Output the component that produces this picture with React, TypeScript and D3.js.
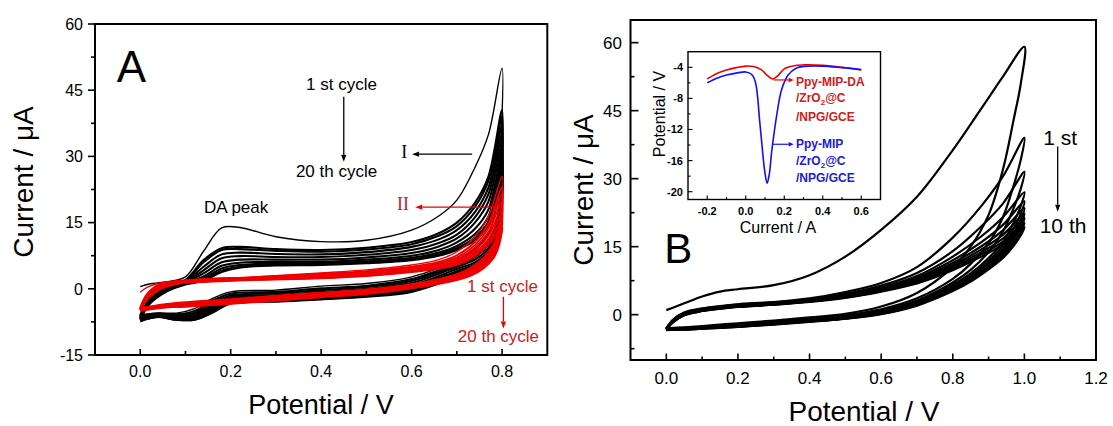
import React from 'react';
import * as d3 from 'd3';

const W = 1113;
const H = 426;
const FONT = 'Liberation Sans, Arial, Helvetica, sans-serif';

// ---------- Panel A: potential grids (V) ----------
const aForwardE = [0, 0.02, 0.06, 0.1, 0.14, 0.18, 0.22, 0.3, 0.4, 0.5, 0.6, 0.66, 0.7, 0.74, 0.77, 0.8];
const aReverseE = [0.8, 0.797, 0.79, 0.77, 0.74, 0.7, 0.6, 0.5, 0.4, 0.3, 0.2, 0.16, 0.12, 0.08, 0.04, 0.01, 0];

// black cycles (1st .. 20th), current in uA
const blackForward = [
  [0.5, 1.1, 1.6, 2.7, 8.5, 13.8, 13.9, 11.8, 10.7, 11.0, 13.3, 16.5, 20.1, 27.5, 35.0, 50.0],
  [-6.0, -2.5, 0.4, 2.0, 6.5, 9.2, 9.5, 9.0, 8.8, 9.3, 10.6, 12.6, 15.0, 19.5, 25.5, 40.5],
  [-6.2, -2.7, 0.3, 1.8, 6.0, 8.8, 9.0, 8.6, 8.4, 8.9, 10.1, 12.0, 14.2, 18.6, 24.5, 39.0],
  [-6.4, -2.9, 0.2, 1.6, 5.0, 7.8, 8.2, 7.9, 7.8, 8.3, 9.5, 11.2, 13.3, 17.4, 23.0, 37.0],
  [-6.5, -3.0, 0.1, 1.5, 4.2, 6.9, 7.4, 7.2, 7.2, 7.7, 8.8, 10.4, 12.3, 16.2, 21.5, 35.0],
  [-6.6, -3.1, 0.0, 1.4, 3.5, 6.0, 6.6, 6.6, 6.6, 7.1, 8.1, 9.6, 11.4, 15.0, 19.8, 33.0],
  [-6.7, -3.2, -0.2, 1.3, 2.8, 5.2, 5.9, 6.1, 6.1, 6.6, 7.5, 8.8, 10.5, 13.6, 18.0, 31.0],
  [-6.8, -3.3, -0.3, 1.2, 2.3, 4.6, 5.4, 5.7, 5.8, 6.2, 7.0, 8.2, 9.7, 12.4, 16.4, 29.5],
  [-6.9, -3.4, -0.4, 1.1, 2.0, 4.1, 5.0, 5.5, 5.6, 6.0, 6.7, 7.8, 9.2, 11.6, 15.3, 27.5],
  [-7.0, -3.5, -0.5, 1.0, 1.8, 3.8, 4.8, 5.3, 5.4, 5.8, 6.5, 7.5, 8.8, 11.0, 14.5, 26.0],
];
const blackReverse = [
  [50.0, 32, 20, 12.5, 9.0, 6.5, 2.7, 1.2, 0.6, -0.3, -0.7, -2.2, -4.5, -5.5, -5.5, -5.8, -6.0],
  [40.5, 25, 16, 10.5, 7.6, 5.8, 2.2, 0.7, 0.1, -0.7, -1.1, -2.7, -5.0, -5.8, -5.6, -5.9, -6.2],
  [39.0, 24, 15, 10.0, 7.2, 5.4, 1.8, 0.4, -0.3, -1.0, -1.5, -3.1, -5.4, -6.0, -5.7, -6.1, -6.4],
  [37.0, 22, 14, 9.2, 6.6, 5.0, 1.3, 0.0, -0.7, -1.4, -1.9, -3.6, -5.8, -6.3, -5.9, -6.3, -6.5],
  [35.0, 21, 13, 8.5, 6.0, 4.5, 0.8, -0.4, -1.1, -1.8, -2.3, -4.0, -6.2, -6.5, -6.0, -6.4, -6.6],
  [33.0, 19.5, 12, 7.8, 5.5, 4.0, 0.4, -0.8, -1.5, -2.1, -2.6, -4.4, -6.5, -6.7, -6.1, -6.6, -6.7],
  [31.0, 18, 11, 7.2, 5.0, 3.6, 0.0, -1.2, -1.8, -2.4, -2.9, -4.8, -6.7, -6.8, -6.2, -6.7, -6.8],
  [29.5, 17, 10.5, 6.7, 4.7, 3.2, -0.3, -1.5, -2.1, -2.6, -3.1, -5.1, -6.9, -6.9, -6.3, -6.8, -6.9],
  [27.5, 16, 10, 6.3, 4.4, 2.9, -0.5, -1.7, -2.3, -2.8, -3.2, -5.3, -7.0, -7.0, -6.4, -6.9, -7.0],
  [26.0, 15, 9.5, 6.0, 4.2, 2.7, -0.7, -1.8, -2.4, -2.9, -3.3, -5.4, -7.0, -7.0, -6.4, -7.0, -7.4],
];

// red cycles
const redForwardE = [0, 0.015, 0.04, 0.08, 0.15, 0.25, 0.4, 0.5, 0.6, 0.66, 0.7, 0.74, 0.77, 0.8];
const redReverseE = [0.8, 0.797, 0.79, 0.78, 0.76, 0.73, 0.7, 0.6, 0.5, 0.4, 0.3, 0.2, 0.1, 0.05, 0.02, 0];
const redForward = [
  [-0.8, 0.3, 1.2, 1.8, 2.3, 2.7, 3.6, 4.3, 5.4, 6.6, 8.4, 11.8, 16.5, 25.4],
  [-4.3, -1.2, 0.9, 1.7, 2.2, 2.6, 3.4, 4.0, 5.0, 6.1, 7.6, 10.6, 14.8, 23.0],
  [-4.4, -1.4, 0.7, 1.6, 2.1, 2.5, 3.2, 3.8, 4.7, 5.8, 7.1, 9.9, 13.8, 21.5],
  [-4.5, -1.6, 0.5, 1.5, 2.0, 2.4, 3.0, 3.6, 4.4, 5.5, 6.7, 9.3, 12.9, 20.0],
  [-4.6, -1.8, 0.3, 1.4, 1.9, 2.3, 2.8, 3.4, 4.2, 5.2, 6.3, 8.7, 12.0, 18.5],
  [-4.7, -2.0, 0.1, 1.3, 1.8, 2.2, 2.6, 3.2, 4.0, 5.0, 6.0, 8.2, 11.2, 17.0],
  [-4.8, -2.2, -0.1, 1.2, 1.7, 2.1, 2.5, 3.0, 3.9, 4.8, 5.7, 7.8, 10.5, 15.5],
  [-4.9, -2.4, -0.3, 1.1, 1.6, 2.0, 2.4, 2.9, 3.8, 4.6, 5.4, 7.4, 10.0, 14.0],
];
const redReverse = [
  [25.4, 17, 12.5, 10.0, 7.2, 4.8, 3.4, 1.1, -0.1, -0.8, -1.5, -2.3, -3.0, -3.5, -4.0, -4.3],
  [23.0, 16, 12.0, 9.5, 6.8, 4.4, 3.1, 0.9, -0.3, -1.0, -1.7, -2.5, -3.2, -3.7, -4.1, -4.4],
  [21.5, 15, 11.4, 9.0, 6.4, 4.1, 2.8, 0.7, -0.5, -1.2, -1.9, -2.7, -3.4, -3.8, -4.2, -4.5],
  [20.0, 14.2, 10.8, 8.5, 6.0, 3.8, 2.6, 0.5, -0.7, -1.4, -2.1, -2.9, -3.6, -3.9, -4.3, -4.6],
  [18.5, 13.5, 10.3, 8.0, 5.6, 3.5, 2.4, 0.4, -0.9, -1.6, -2.3, -3.1, -3.8, -4.0, -4.4, -4.7],
  [17.0, 12.8, 9.8, 7.6, 5.3, 3.3, 2.2, 0.3, -1.0, -1.7, -2.5, -3.2, -3.9, -4.1, -4.5, -4.8],
  [15.5, 12.2, 9.3, 7.2, 5.0, 3.1, 2.1, 0.2, -1.1, -1.8, -2.6, -3.3, -4.0, -4.2, -4.6, -4.9],
  [14.0, 11.5, 8.8, 6.8, 4.7, 2.9, 2.0, 0.1, -1.2, -1.9, -2.7, -3.4, -4.0, -4.3, -4.7, -5.0],
];

// ---------- Panel B ----------
const bForwardE = [0, 0.02, 0.05, 0.1, 0.15, 0.2, 0.3, 0.4, 0.5, 0.6, 0.7, 0.8, 0.88, 0.94, 1.0];
const bReverseE = [1.0, 0.99, 0.97, 0.94, 0.9, 0.85, 0.8, 0.7, 0.6, 0.5, 0.4, 0.3, 0.2, 0.1, 0.05, 0.02, 0];
const bForward = [
  [1.0, 1.6, 2.5, 4.0, 5.1, 5.6, 6.5, 8.7, 12.8, 18.7, 26.0, 36.3, 45.5, 52.5, 59.1],
  [-3.0, -1.0, 0.5, 1.4, 1.9, 2.3, 2.8, 3.6, 5.0, 7.0, 10.5, 17.0, 24.0, 30.5, 39.0],
  [-3.0, -1.1, 0.4, 1.3, 1.8, 2.2, 2.7, 3.4, 4.6, 6.4, 9.2, 14.0, 19.5, 24.5, 31.5],
  [-3.1, -1.2, 0.3, 1.2, 1.7, 2.1, 2.6, 3.3, 4.4, 6.0, 8.5, 12.8, 17.3, 21.5, 27.0],
  [-3.1, -1.3, 0.2, 1.1, 1.6, 2.0, 2.5, 3.2, 4.2, 5.8, 8.1, 12.0, 16.0, 19.8, 25.0],
  [-3.2, -1.4, 0.1, 1.0, 1.5, 1.9, 2.4, 3.1, 4.1, 5.6, 7.8, 11.4, 15.1, 18.6, 23.5],
  [-3.2, -1.5, 0.0, 0.9, 1.4, 1.8, 2.3, 3.0, 4.0, 5.4, 7.5, 10.9, 14.4, 17.6, 22.3],
  [-3.2, -1.5, 0.0, 0.9, 1.4, 1.8, 2.3, 2.9, 3.9, 5.3, 7.3, 10.5, 13.8, 16.8, 21.3],
  [-3.3, -1.6, -0.1, 0.8, 1.3, 1.7, 2.2, 2.9, 3.8, 5.2, 7.1, 10.1, 13.3, 16.1, 20.2],
  [-3.3, -1.6, -0.1, 0.8, 1.3, 1.7, 2.2, 2.8, 3.7, 5.1, 6.9, 9.8, 12.8, 15.5, 19.3],
];
const bReverse = [
  [59.1, 51, 43, 32, 22, 15.0, 10.5, 4.8, 1.8, 0.2, -0.6, -1.3, -1.9, -2.5, -2.8, -2.9, -3.0],
  [39.0, 34.2, 28.5, 21.5, 15.8, 11.2, 7.9, 3.6, 1.2, -0.1, -0.9, -1.5, -2.1, -2.7, -2.9, -3.0, -3.0],
  [31.5, 27.8, 23.5, 18.3, 13.8, 9.9, 7.1, 3.1, 0.9, -0.3, -1.1, -1.7, -2.3, -2.8, -3.0, -3.1, -3.1],
  [27.0, 24.0, 20.3, 16.0, 12.5, 9.1, 6.6, 2.8, 0.7, -0.5, -1.2, -1.8, -2.4, -2.9, -3.1, -3.1, -3.1],
  [25.0, 22.3, 19.0, 15.2, 11.9, 8.7, 6.3, 2.6, 0.5, -0.6, -1.3, -1.9, -2.5, -2.9, -3.1, -3.2, -3.2],
  [23.5, 21.0, 18.0, 14.5, 11.4, 8.3, 6.0, 2.4, 0.4, -0.7, -1.4, -2.0, -2.5, -3.0, -3.2, -3.2, -3.2],
  [22.3, 20.0, 17.2, 13.9, 11.0, 8.0, 5.8, 2.3, 0.3, -0.8, -1.4, -2.0, -2.6, -3.0, -3.2, -3.2, -3.2],
  [21.3, 19.2, 16.5, 13.4, 10.6, 7.7, 5.6, 2.2, 0.2, -0.8, -1.5, -2.1, -2.6, -3.0, -3.2, -3.3, -3.3],
  [20.2, 18.3, 15.8, 12.9, 10.3, 7.5, 5.4, 2.1, 0.2, -0.9, -1.5, -2.1, -2.7, -3.1, -3.3, -3.3, -3.3],
  [19.3, 17.5, 15.2, 12.5, 10.0, 7.3, 5.2, 2.0, 0.1, -0.9, -1.6, -2.2, -2.7, -3.1, -3.3, -3.3, -3.4],
];

// ---------- Inset ----------
const insetRedX = [-0.2, -0.15, -0.1, -0.05, 0.0, 0.04, 0.08, 0.11, 0.14, 0.17, 0.2, 0.25, 0.3, 0.4, 0.5, 0.6];
const insetRedY = [-5.5, -4.8, -4.35, -4.05, -3.85, -3.9, -4.3, -5.0, -5.5, -5.0, -4.2, -3.8, -3.7, -3.75, -4.0, -4.35];
const insetBlueX = [-0.2, -0.15, -0.1, -0.05, 0.0, 0.03, 0.05, 0.073, 0.09, 0.1, 0.111, 0.122, 0.134, 0.147, 0.16, 0.186, 0.22, 0.264, 0.3, 0.4, 0.5, 0.6];
const insetBlueY = [-6.0, -5.4, -5.0, -4.75, -4.6, -4.9, -5.9, -11.1, -15.5, -17.6, -18.9, -17.8, -15.0, -12.5, -10.3, -6.9, -5.0, -4.1, -3.9, -3.85, -4.05, -4.3];

// ---------- ticks ----------
const aXMajor = [0, 0.2, 0.4, 0.6, 0.8];
const aXMinor = [0.1, 0.3, 0.5, 0.7];
const aYMajor = [-15, 0, 15, 30, 45, 60];
const aYMinor = [-7.5, 7.5, 22.5, 37.5, 52.5];
const bXMajor = [0, 0.2, 0.4, 0.6, 0.8, 1.0, 1.2];
const bXMinor = [0.1, 0.3, 0.5, 0.7, 0.9, 1.1];
const bYMajor = [0, 15, 30, 45, 60];
const bYMinor = [-7.5, 7.5, 22.5, 37.5, 52.5];
const iXMajor = [-0.2, 0, 0.2, 0.4, 0.6];
const iXMinor = [-0.1, 0.1, 0.3, 0.5];
const iYMajor = [-20, -16, -12, -8, -4];
const iYMinor = [-18, -14, -10, -6];

const RED = '#ee0000';
const RED_TEXT = '#cc2020';
const BLUE = '#1010ff';
const BLUE_TEXT = '#2020cc';

type Pt = [number, number];
const loop = (fe: number[], fi: number[], re: number[], ri: number[]): Pt[] =>
  fe.map((e, i) => [e, fi[i]] as Pt).concat(re.slice(1).map((e, i) => [e, ri[i + 1]] as Pt));

function Arrow({ x1, y1, x2, y2, color, head = 7, half = 2.6, sw = 1.3 }: any) {
  const a = Math.atan2(y2 - y1, x2 - x1);
  const bx = x2 - head * Math.cos(a);
  const by = y2 - head * Math.sin(a);
  const px = -Math.sin(a) * half;
  const py = Math.cos(a) * half;
  return (
    <g>
      <line x1={x1} y1={y1} x2={bx} y2={by} stroke={color} strokeWidth={sw} />
      <polygon points={`${x2},${y2} ${bx + px},${by + py} ${bx - px},${by - py}`} fill={color} />
    </g>
  );
}

function Axes({ x, y, xMajor, xMinor, yMajor, yMinor, leftOut, xLen, yLen, fs, xLabelY, yLabelX, fmtX, fmtY, sw, bold }: any) {
  const [x0, x1] = x.range();
  const [y0, y1] = y.range();
  const dir = leftOut ? -1 : 1;
  return (
    <g fontFamily={FONT} fontSize={fs} fontWeight={bold ? 'bold' : 'normal'}>
      <rect x={x0} y={y1} width={x1 - x0} height={y0 - y1} fill="none" stroke="#000" strokeWidth={sw} />
      {xMajor.map((v: number) => (
        <g key={'xM' + v}>
          <line x1={x(v)} x2={x(v)} y1={y0} y2={y0 - xLen[0]} stroke="#000" strokeWidth={sw * 0.8} />
          <text x={x(v)} y={xLabelY} textAnchor="middle">{fmtX(v)}</text>
        </g>
      ))}
      {xMinor.map((v: number) => (
        <line key={'xm' + v} x1={x(v)} x2={x(v)} y1={y0} y2={y0 - xLen[1]} stroke="#000" strokeWidth={sw * 0.8} />
      ))}
      {yMajor.map((v: number) => (
        <g key={'yM' + v}>
          <line x1={x0} x2={x0 + dir * yLen[0]} y1={y(v)} y2={y(v)} stroke="#000" strokeWidth={sw * 0.8} />
          <text x={yLabelX} y={y(v)} dy="0.36em" textAnchor="end">{fmtY(v)}</text>
        </g>
      ))}
      {yMinor.map((v: number) => (
        <line key={'ym' + v} x1={x0} x2={x0 + dir * yLen[1]} y1={y(v)} y2={y(v)} stroke="#000" strokeWidth={sw * 0.8} />
      ))}
    </g>
  );
}

export default function App() {
  // scales
  const xA = d3.scaleLinear().domain([-0.1, 0.9]).range([95, 547.3]);
  const yA = d3.scaleLinear().domain([-15, 60]).range([355, 24]);
  const xB = d3.scaleLinear().domain([-0.1, 1.2]).range([630.5, 1096]);
  const yB = d3.scaleLinear().domain([-10, 65]).range([360, 20]);
  const xI = d3.scaleLinear().domain([-0.3, 0.7]).range([688, 880.5]);
  const yI = d3.scaleLinear().domain([-21, -2]).range([199.5, 51.7]);

  const curve = d3.curveCatmullRom.alpha(0.5);
  const lineA = d3.line<Pt>().x(d => xA(d[0])).y(d => yA(d[1])).curve(curve);
  const lineB = d3.line<Pt>().x(d => xB(d[0])).y(d => yB(d[1])).curve(curve);
  const lineI = d3.line<Pt>().x(d => xI(d[0])).y(d => yI(d[1])).curve(curve);

  const fx = (v: number) => v.toFixed(1);
  const fy = (v: number) => String(v);

  return (
    <svg width={W} height={H} style={{ position: 'absolute', left: 0, top: 0, background: '#fff' }}>
      <rect width={W} height={H} fill="#fff" />

      {/* ---------------- Panel A ---------------- */}
      <g fill="none" strokeLinejoin="round">
        {blackForward.map((row, i) => (
          <path key={'ab' + i} d={lineA(loop(aForwardE, row, aReverseE, blackReverse[i])) || ''} stroke="#000" strokeWidth={i === 0 ? 1.4 : 2.1} />
        ))}
        {redForward.map((row, i) => (
          <path key={'ar' + i} d={lineA(loop(redForwardE, row, redReverseE, redReverse[i])) || ''} stroke={RED} strokeWidth={i === 0 ? 1.4 : 1.9} />
        ))}
      </g>
      <Axes x={xA} y={yA} xMajor={aXMajor} xMinor={aXMinor} yMajor={aYMajor} yMinor={aYMinor}
        leftOut={true} xLen={[6, 4]} yLen={[7, 4]} fs={16} xLabelY={377} yLabelX={83}
        fmtX={fx} fmtY={fy} sw={2} />
      <g fontFamily={FONT}>
        <text x={xA(-0.052)} y={yA(46.9)} fontSize={44}>A</text>
        <text x={xA(0.445)} y={yA(45)} fontSize={17} textAnchor="middle">1 st cycle</text>
        <Arrow x1={xA(0.45)} y1={yA(43.5)} x2={xA(0.45)} y2={yA(28.8)} color="#000" />
        <text x={xA(0.434)} y={yA(25.3)} fontSize={17} textAnchor="middle">20 th cycle</text>
        <text x={xA(0.212)} y={yA(17.2)} fontSize={17} textAnchor="middle">DA peak</text>
        <text x={xA(0.584)} y={yA(29.6)} fontSize={18} textAnchor="middle" fontFamily="Liberation Serif, Times New Roman, serif">I</text>
        <Arrow x1={xA(0.734)} y1={yA(30.5)} x2={xA(0.601)} y2={yA(30.5)} color="#000" />
        <text x={xA(0.581)} y={yA(17.9)} fontSize={18} textAnchor="middle" fill={RED_TEXT} fontFamily="Liberation Serif, Times New Roman, serif">II</text>
        <Arrow x1={xA(0.8)} y1={yA(18.5)} x2={xA(0.608)} y2={yA(18.5)} color={RED} />
        <text x={xA(0.801)} y={yA(-0.7)} fontSize={17} textAnchor="middle" fill={RED_TEXT}>1 st cycle</text>
        <Arrow x1={xA(0.803)} y1={yA(-1.8)} x2={xA(0.803)} y2={yA(-9.0)} color={RED} />
        <text x={xA(0.792)} y={yA(-12.0)} fontSize={17} textAnchor="middle" fill={RED_TEXT}>20 th cycle</text>
        <text x={321} y={414} fontSize={27} textAnchor="middle">Potential / V</text>
        <text transform="translate(33,182) rotate(-90)" fontSize={28} textAnchor="middle">Current / μA</text>
      </g>

      {/* ---------------- Panel B ---------------- */}
      <g fill="none" strokeLinejoin="round">
        {bForward.map((row, i) => (
          <path key={'b' + i} d={lineB(loop(bForwardE, row, bReverseE, bReverse[i])) || ''} stroke="#000" strokeWidth={2.2} />
        ))}
      </g>
      <Axes x={xB} y={yB} xMajor={bXMajor} xMinor={bXMinor} yMajor={bYMajor} yMinor={bYMinor}
        leftOut={false} xLen={[6.5, 3.5]} yLen={[8, 4]} fs={17} xLabelY={384} yLabelX={622}
        fmtX={fx} fmtY={fy} sw={2} />
      <g fontFamily={FONT}>
        <text x={xB(-0.006)} y={yB(11.4)} fontSize={42}>B</text>
        <text x={xB(1.10)} y={yB(37.4)} fontSize={21} textAnchor="middle">1 st</text>
        <Arrow x1={xB(1.093)} y1={yB(37.1)} x2={xB(1.093)} y2={yB(22.7)} color="#000" />
        <text x={xB(1.108)} y={yB(18.0)} fontSize={21} textAnchor="middle">10 th</text>
        <text x={864} y={421} fontSize={28} textAnchor="middle">Potential / V</text>
        <text transform="translate(593,190) rotate(-90)" fontSize={28} textAnchor="middle">Current / μA</text>
      </g>

      {/* ---------------- Inset ---------------- */}
      <rect x={688} y={51.7} width={192.5} height={147.8} fill="#fff" />
      <g fill="none">
        <path d={lineI(insetRedX.map((v, i) => [v, insetRedY[i]] as Pt)) || ''} stroke={RED} strokeWidth={1.6} />
        <path d={lineI(insetBlueX.map((v, i) => [v, insetBlueY[i]] as Pt)) || ''} stroke={BLUE} strokeWidth={1.6} />
      </g>
      <Axes x={xI} y={yI} xMajor={iXMajor} xMinor={iXMinor} yMajor={iYMajor} yMinor={iYMinor}
        leftOut={false} xLen={[4, 2.5]} yLen={[4.5, 2.5]} fs={11} xLabelY={215} yLabelX={683}
        fmtX={fx} fmtY={fy} sw={1.4} bold={true} />
      <g fontFamily={FONT}>
        <text transform="translate(665,114) rotate(-90)" fontSize={16} textAnchor="middle">Potential / V</text>
        <text x={778} y={233} fontSize={16} textAnchor="middle">Current / A</text>
        <Arrow x1={xI(0.145)} y1={yI(-5.63)} x2={xI(0.249)} y2={yI(-5.63)} color={RED} head={5} half={2.2} sw={1.2} />
        <Arrow x1={xI(0.142)} y1={yI(-13.9)} x2={xI(0.249)} y2={yI(-13.9)} color={BLUE} head={5} half={2.2} sw={1.2} />
        <g fontSize={12} fontWeight="bold" fill={RED_TEXT}>
          <text x={796} y={85.5}>Ppy-MIP-DA</text>
          <text x={796} y={102}>/ZrO<tspan fontSize={8} dy={3}>2</tspan><tspan dy={-3}>@C</tspan></text>
          <text x={796} y={120.5}>/NPG/GCE</text>
        </g>
        <g fontSize={12} fontWeight="bold" fill={BLUE_TEXT}>
          <text x={796} y={148}>Ppy-MIP</text>
          <text x={796} y={164.5}>/ZrO<tspan fontSize={8} dy={3}>2</tspan><tspan dy={-3}>@C</tspan></text>
          <text x={796} y={182}>/NPG/GCE</text>
        </g>
      </g>
    </svg>
  );
}
